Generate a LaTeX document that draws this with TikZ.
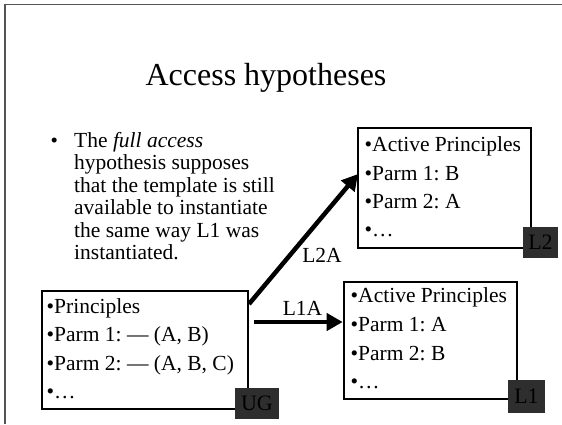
\documentclass[tikz,border=0pt]{standalone}
\usepackage{fontspec}
\setmainfont{Liberation Serif}
\usetikzlibrary{arrows.meta}
\definecolor{tagfill}{HTML}{2E2E2E}
\definecolor{framegray}{HTML}{555555}
\tikzset{
  txt/.style={anchor=base west, inner sep=0pt, font=\fontsize{21.5}{22.5}\selectfont\frenchspacing},
  lbl/.style={inner sep=0pt, font=\fontsize{21.5}{22.5}\selectfont},
  box/.style={draw=black, line width=2.6pt, fill=white, inner sep=0pt},
  tagbox/.style={fill=tagfill, inner sep=0pt},
  tagtxt/.style={inner sep=0pt, text=black, font=\fontsize{22}{22}\selectfont},
  arr/.style={line width=4.5pt, -{Triangle[length=16pt,width=17pt]}}
}
\begin{document}
\begin{tikzpicture}[x=1pt,y=-1pt]
\useasboundingbox (0,0) rectangle (562,424);
% slide frame (top and left edges visible)
\draw[framegray, line width=1.2pt] (5,424) -- (5,4.5) -- (562,4.5);
% title
\node[anchor=base, inner sep=0pt, font=\fontsize{32}{32}\selectfont] (title) at (266,85) {Access hypotheses};
% bullet text
\node[anchor=base west, inner sep=0pt, font=\fontsize{21}{21}\selectfont] (bul) at (50.5,147) {•};
\node[txt] (t1) at (74,147) {The \textit{full access}};
\node[txt] (t2) at (74,169.5) {hypothesis supposes};
\node[txt] (t3) at (74,192) {that the template is still};
\node[txt] (t4) at (74,214.5) {available to instantiate};
\node[txt] (t5) at (74,237) {the same way L1 was};
\node[txt] (t6) at (74,259.5) {instantiated.};
% UG box
\node[box, minimum width=206pt, minimum height=118pt] (ug) at (145,350) {};
\node[txt] (ug1) at (46.5,313) {•Principles};
\node[txt] (ug2) at (46.5,341.5) {•Parm 1: — (A, B)};
\node[txt] (ug3) at (46.5,370) {•Parm 2: — (A, B, C)};
\node[txt] (ug4) at (46.5,398.5) {•…};
\node[tagbox, minimum width=44pt, minimum height=31pt] (ugtag) at (257,403.5) {};
\node[tagtxt] (ugt) at (ugtag) {UG};
% L1 box
\node[box, minimum width=173pt, minimum height=117pt] (l1) at (430.5,340.5) {};
\node[txt] (l11) at (350.5,302.5) {•Active Principles};
\node[txt] (l12) at (350.5,331.5) {•Parm 1: A};
\node[txt] (l13) at (350.5,360) {•Parm 2: B};
\node[txt] (l14) at (350.5,388) {•…};
\node[tagbox, minimum width=37pt, minimum height=33pt] (l1tag) at (526.5,396.5) {};
\node[tagtxt] (l1t) at (l1tag) {L1};
% L2 box
\node[box, minimum width=173pt, minimum height=120pt] (l2) at (444.5,188) {};
\node[txt] (l21) at (364.5,151.5) {•Active Principles};
\node[txt] (l22) at (364.5,180) {•Parm 1: B};
\node[txt] (l23) at (364.5,208.5) {•Parm 2: A};
\node[txt] (l24) at (364.5,236.5) {•…};
\node[tagbox, minimum width=35pt, minimum height=31pt] (l2tag) at (540.5,242.5) {};
\node[tagtxt] (l2t) at (l2tag) {L2};
% arrows
\coordinate (a1s) at (254,322);
\coordinate (a2s) at (249,304);
\coordinate (a2e) at (358,174);
\draw[arr] (a1s) -- (l1.west |- a1s);
\draw[arr] (a2s) -- (a2e);
\node[lbl] (l1a) at (302.5,308) {L1A};
\node[lbl] (l2a) at (322,255) {L2A};
\end{tikzpicture}
\end{document}
